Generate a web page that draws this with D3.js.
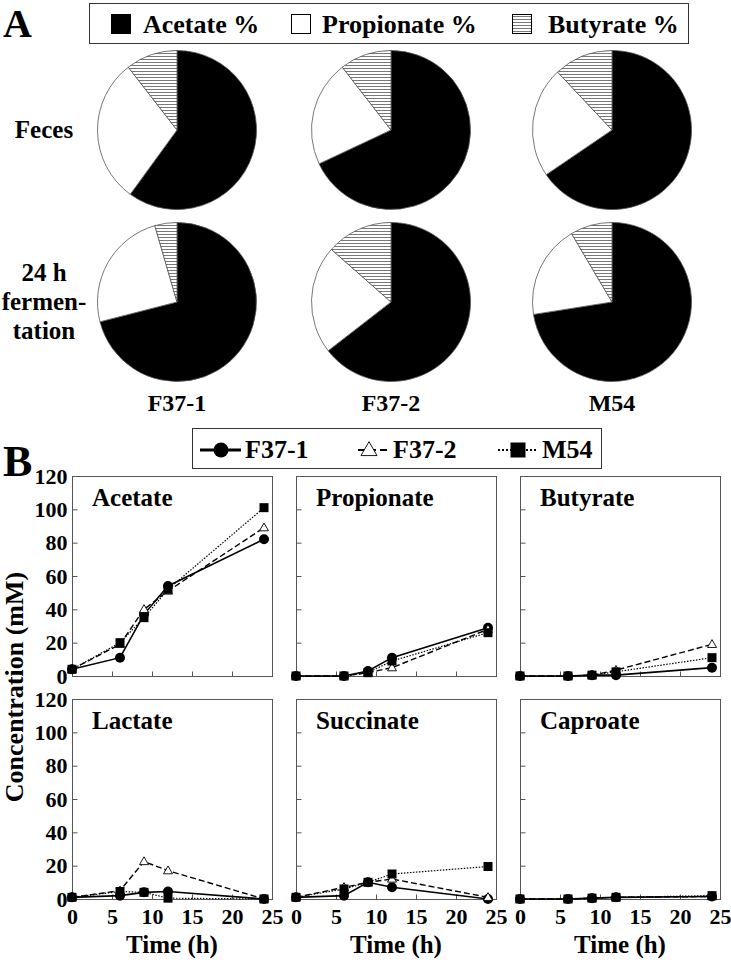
<!DOCTYPE html>
<html><head><meta charset="utf-8">
<script src="https://cdn.jsdelivr.net/npm/d3@7"></script>
<style>body{margin:0;background:#fff}svg{display:block}svg text{font-family:'Liberation Serif','Tinos','Times New Roman',serif;font-weight:bold;fill:#000}</style>
</head><body>
<script>
// ---------- DATA ----------
const samples = ["F37-1", "F37-2", "M54"];
const pieRowLabels = [["Feces"], ["24 h", "fermen-", "tation"]];
const pieLegend = ["Acetate %", "Propionate %", "Butyrate %"];
const fecesAcetate     = [60.0, 68.0, 65.5];
const fecesPropionate  = [29.5, 21.5, 22.5];
const fecesButyrate    = [10.5, 10.5, 12.0];
const fermAcetate      = [71.0, 64.5, 72.5];
const fermPropionate   = [24.5, 22.0, 19.0];
const fermButyrate     = [4.5, 13.5, 8.5];

const hours = [0, 6, 9, 12, 24];
const acidNames = ["Acetate", "Propionate", "Butyrate", "Lactate", "Succinate", "Caproate"];
const acetateF371 = [4, 11, 37, 54, 82];
const acetateF372 = [4, 19, 40, 51, 89];
const acetateM54  = [4, 20, 35, 52, 101];
const propionateF371 = [0, 0, 3, 11, 29];
const propionateF372 = [0, 0, 2, 5, 28];
const propionateM54  = [0, 0, 2, 9, 26];
const butyrateF371 = [0, 0, 0.5, 0.5, 5];
const butyrateF372 = [0, 0, 0.5, 3.5, 19];
const butyrateM54  = [0, 0, 0.5, 2.5, 11];
const lactateF371 = [1, 2, 4, 4.5, 0];
const lactateF372 = [1, 5, 22.5, 17, 0];
const lactateM54  = [1, 4.5, 4, 0.5, 0];
const succinateF371 = [1, 2, 10, 7, 0];
const succinateF372 = [1, 7, 10, 12, 1];
const succinateM54  = [1, 6, 10, 15, 19.5];
const caproateF371 = [0, 0, 0.5, 1, 1.5];
const caproateF372 = [0, 0, 0.5, 1, 1.5];
const caproateM54  = [0, 0, 0.5, 1, 2];
const yTicks = [0, 20, 40, 60, 80, 100, 120];
const xTicks = [0, 5, 10, 15, 20, 25];

// ---------- BUILD ----------
const FONT = "'Liberation Serif','Tinos','Times New Roman',serif";
const W = 731, H = 960;
const svg = d3.select("body").append("svg").attr("width", W).attr("height", H)
  .attr("font-family", FONT).attr("font-weight", "bold");
const defs = svg.append("defs");
const pat = defs.append("pattern").attr("id", "hatch").attr("patternUnits", "userSpaceOnUse")
  .attr("width", 6).attr("height", 3);
pat.append("rect").attr("width", 6).attr("height", 3).attr("fill", "#fff");
pat.append("line").attr("x1", 0).attr("x2", 6).attr("y1", 1.5).attr("y2", 1.5)
  .attr("stroke", "#555").attr("stroke-width", 0.8);

const sliceFills = ["#000", "#fff", "url(#hatch)"];
function txt(sel, x, y, size, t, anchor) {
  return sel.append("text").attr("x", x).attr("y", y).attr("font-size", size)
    .attr("font-family", FONT).attr("font-weight", "bold")
    .attr("text-anchor", anchor || "start").text(t);
}

// Panel A label + legend
txt(svg, 3, 37, 40, "A");
svg.append("rect").attr("x", 89.5).attr("y", 3.5).attr("width", 599).attr("height", 40)
  .attr("fill", "none").attr("stroke", "#333").attr("stroke-width", 1);
const legA = [[111, 143], [291, 322], [512, 548]];
pieLegend.forEach((name, i) => {
  svg.append("rect").attr("x", legA[i][0] + 0.5).attr("y", 14.5).attr("width", 19).attr("height", 19)
    .attr("fill", sliceFills[i]).attr("stroke", "#000").attr("stroke-width", 1);
  txt(svg, legA[i][1], 33, 26, name);
});

// Pies
const pieCx = [177, 391, 612];
const pieCy = [130, 302];
const R = 79.5;
const pieGen = d3.pie().sort(null).value(d => d);
const arcGen = d3.arc().innerRadius(0).outerRadius(R);
const pieData = [
  samples.map((s, i) => [fecesAcetate[i], fecesPropionate[i], fecesButyrate[i]]),
  samples.map((s, i) => [fermAcetate[i], fermPropionate[i], fermButyrate[i]])
];
pieData.forEach((row, r) => {
  row.forEach((vals, c) => {
    const g = svg.append("g").attr("transform", `translate(${pieCx[c]},${pieCy[r]})`);
    g.selectAll("path").data(pieGen(vals)).join("path")
      .attr("d", arcGen).attr("fill", (d, i) => sliceFills[i])
      .attr("stroke", "#555").attr("stroke-width", 0.8);
  });
  const lines = pieRowLabels[r];
  const lh = 29;
  lines.forEach((t, k) => {
    txt(svg, 44, pieCy[r] + 8 + (k - (lines.length - 1) / 2) * lh, 25, t, "middle");
  });
});
samples.forEach((s, c) => txt(svg, pieCx[c], 411, 24, s, "middle"));

// Panel B label + legend
txt(svg, 3, 476, 44, "B");
svg.append("rect").attr("x", 192.5).attr("y", 428.5).attr("width", 409).attr("height", 40)
  .attr("fill", "none").attr("stroke", "#333").attr("stroke-width", 1);

const seriesStyle = [
  { dash: null, width: 1.6 },
  { dash: "6,3", width: 1.4 },
  { dash: "1.5,1.5", width: 1.2 }
];
function marker(g, type, x, y, size) {
  if (type === 0) {
    g.append("circle").attr("cx", x).attr("cy", y).attr("r", size / 2).attr("fill", "#000");
  } else if (type === 1) {
    const s = size, h = s * 0.87;
    g.append("path").attr("d", `M${x},${y - h * 0.6}L${x + s / 2},${y + h * 0.4}L${x - s / 2},${y + h * 0.4}Z`)
      .attr("fill", "#fff").attr("stroke", "#000").attr("stroke-width", 0.9);
  } else {
    g.append("rect").attr("x", x - size / 2).attr("y", y - size / 2).attr("width", size).attr("height", size)
      .attr("fill", "#000");
  }
}
const legB = [[200, 241, 221, 245], [358, 387, 369, 393], [498, 537, 518, 542]];
const legG = svg.append("g");
samples.forEach((s, i) => {
  legG.append("line").attr("x1", legB[i][0]).attr("x2", legB[i][1]).attr("y1", 450).attr("y2", 450)
    .attr("stroke", "#000").attr("stroke-width", i === 0 ? 3 : 2)
    .attr("stroke-dasharray", i === 0 ? null : (i === 1 ? "7,4" : "2,2"));
  marker(legG, i, legB[i][2], 450, i === 0 ? 15 : (i === 1 ? 16 : 15));
  txt(legG, legB[i][3], 458, 26, s);
});

// Line panels
const panelSeries = [
  [acetateF371, acetateF372, acetateM54],
  [propionateF371, propionateF372, propionateM54],
  [butyrateF371, butyrateF372, butyrateM54],
  [lactateF371, lactateF372, lactateM54],
  [succinateF371, succinateF372, succinateM54],
  [caproateF371, caproateF372, caproateM54]
];
const px0 = [72, 296, 520], py0 = [476, 699], PW = 200, PH = 200;
acidNames.forEach((name, p) => {
  const col = p % 3, row = Math.floor(p / 3);
  const x = d3.scaleLinear().domain([0, 25]).range([px0[col], px0[col] + PW]);
  const y = d3.scaleLinear().domain([0, 120]).range([py0[row] + PH, py0[row]]);
  const g = svg.append("g");
  g.append("rect").attr("x", px0[col] + 0.5).attr("y", py0[row] + 0.5).attr("width", PW).attr("height", PH)
    .attr("fill", "#fff").attr("stroke", "#555").attr("stroke-width", 1);
  const ya = g.append("g").attr("transform", `translate(${px0[col] + 0.5},0)`)
    .call(d3.axisLeft(y).tickValues(yTicks).tickSize(-5).tickPadding(5)
      .tickFormat(col === 0 ? d3.format("d") : () => ""));
  const xa = g.append("g").attr("transform", `translate(0,${py0[row] + PH + 0.5})`)
    .call(d3.axisBottom(x).tickValues(xTicks).tickSize(-5).tickPadding(9)
      .tickFormat(row === 1 ? d3.format("d") : () => ""));
  [ya, xa].forEach(a => {
    a.attr("font-family", FONT).attr("font-size", 22).attr("font-weight", "bold");
    a.select(".domain").remove();
    a.selectAll(".tick line").attr("stroke", "#555");
    a.selectAll("text").attr("font-family", FONT).attr("font-weight", "bold")
      .attr("font-size", 22).attr("fill", "#000");
  });
  txt(g, px0[col] + 20, py0[row] + 30, 25, name);

  const line = d3.line().x((d, i) => x(hours[i])).y(d => y(d));
  panelSeries[p].forEach((vals, s) => {
    g.append("path").attr("d", line(vals)).attr("fill", "none").attr("stroke", "#000")
      .attr("stroke-width", seriesStyle[s].width).attr("stroke-dasharray", seriesStyle[s].dash);
  });
  panelSeries[p].forEach((vals, s) => {
    vals.forEach((v, i) => marker(g, s, x(hours[i]), y(v), s === 1 ? 9 : (s === 0 ? 10 : 9)));
  });
  if (row === 1) txt(g, px0[col] + PW / 2, 953, 25, "Time (h)", "middle");
});
txt(svg, 0, 0, 26, "Concentration (mM)", "middle").attr("transform", "translate(23,687) rotate(-90)");
</script>
</body></html>
